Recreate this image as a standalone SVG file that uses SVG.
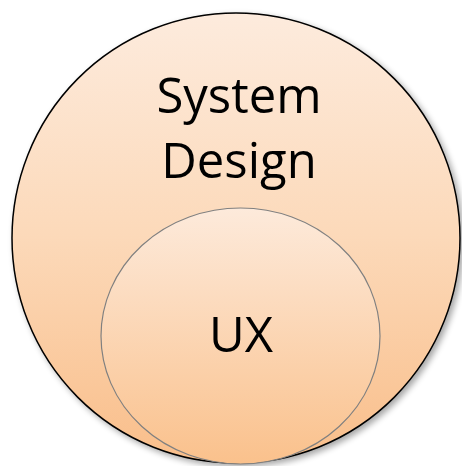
<svg xmlns="http://www.w3.org/2000/svg" width="462" height="466" viewBox="0 0 462 466">
<style>
text{font-family:"Open Sans","Liberation Sans",sans-serif;fill:#000;text-anchor:middle}
.lbl{font-size:49px}
</style>
<defs>
<linearGradient id="gBig" x1="0" y1="0" x2="0" y2="1">
<stop offset="0" stop-color="#FDEBDD"/>
<stop offset="0.5" stop-color="#FCD9B9"/>
<stop offset="1" stop-color="#F9BE8A"/>
</linearGradient>
<linearGradient id="gSmall" x1="0" y1="0" x2="0" y2="1">
<stop offset="0" stop-color="#FDEADB"/>
<stop offset="1" stop-color="#FAC18C"/>
</linearGradient>
<filter id="sh" x="-10%" y="-10%" width="125%" height="125%">
<feGaussianBlur in="SourceAlpha" stdDeviation="3"/>
<feOffset dx="3" dy="3" result="b"/>
<feComponentTransfer><feFuncA type="linear" slope="0.35"/></feComponentTransfer>
<feMerge><feMergeNode/><feMergeNode in="SourceGraphic"/></feMerge>
</filter>
</defs>
<g id="connectors"/>
<g id="system-design">
<ellipse cx="236" cy="238" rx="224" ry="225" fill="url(#gBig)" stroke="#000" stroke-width="1.5" filter="url(#sh)"/>
<text class="lbl" x="239" y="113">System</text>
<text class="lbl" x="239" y="178">Design</text>
</g>
<g id="ux">
<ellipse cx="240.5" cy="336" rx="139.5" ry="128" fill="url(#gSmall)" stroke="#808080" stroke-width="1.2"/>
<text class="lbl" x="241" y="352">UX</text>
</g>
</svg>
